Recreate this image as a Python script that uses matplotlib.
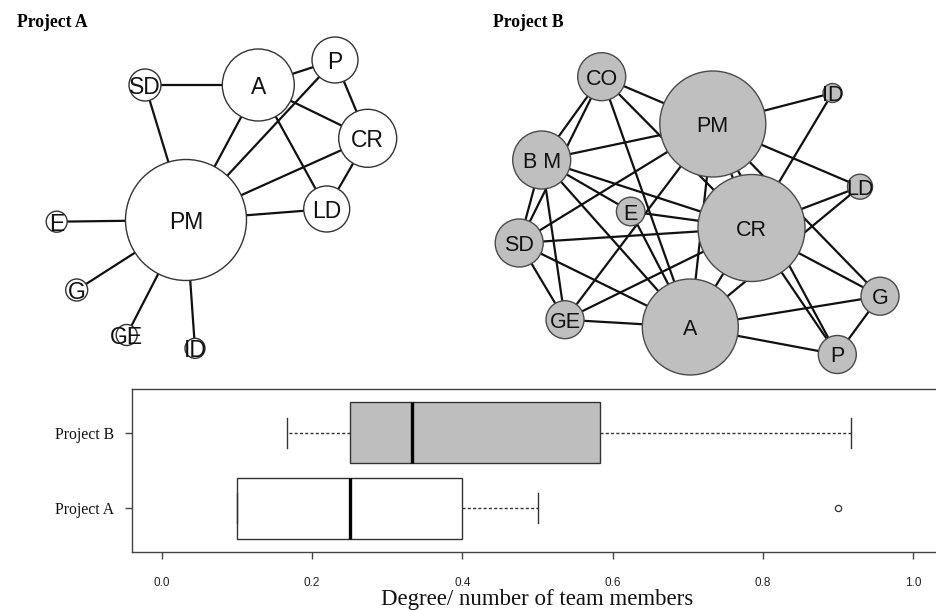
import matplotlib
matplotlib.use("Agg")
import matplotlib.pyplot as plt
from matplotlib.patches import Circle

# ---------------- data ----------------
nodes_a = ["SD", "A", "P", "CR", "LD", "PM", "E", "G", "GE", "ID"]
edges_a = [("SD", "A"), ("SD", "PM"), ("A", "P"), ("A", "CR"), ("A", "LD"),
           ("A", "PM"), ("P", "PM"), ("P", "CR"), ("CR", "PM"), ("CR", "LD"),
           ("LD", "PM"), ("PM", "E"), ("PM", "G"), ("PM", "GE"), ("PM", "ID")]

nodes_b = ["CO", "PM", "ID", "B M", "LD", "E", "CR", "SD", "G", "GE", "A", "P"]
edges_b = [("CO", "B M"), ("CO", "SD"), ("CO", "PM"), ("CO", "CR"), ("CO", "A"),
           ("B M", "PM"), ("B M", "E"), ("B M", "CR"), ("B M", "A"), ("B M", "SD"),
           ("B M", "GE"),
           ("SD", "PM"), ("SD", "CR"), ("SD", "A"), ("SD", "GE"),
           ("GE", "PM"), ("GE", "CR"), ("GE", "A"),
           ("E", "CR"), ("E", "A"),
           ("PM", "ID"), ("PM", "LD"), ("PM", "A"), ("PM", "CR"), ("PM", "G"),
           ("PM", "P"),
           ("ID", "CR"), ("LD", "CR"), ("LD", "A"),
           ("CR", "G"), ("CR", "P"), ("CR", "A"),
           ("G", "A"), ("G", "P"), ("P", "A")]

box_labels = ["Project A", "Project B"]
box_whislo = [0.1, 0.1667]
box_q1 = [0.1, 0.25]
box_med = [0.25, 0.3333]
box_q3 = [0.4, 0.5833]
box_whishi = [0.5, 0.9167]
box_fliers = [[0.9], []]

x_ticks = [0.0, 0.2, 0.4, 0.6, 0.8, 1.0]
x_ticklabels = ["0.0", "0.2", "0.4", "0.6", "0.8", "1.0"]

# ---------------- layout (pixel space: x, y, radius) ----------------
layout_a = {
    "SD": (145, 85, 16), "A": (258.3, 85, 36), "P": (335, 60, 23),
    "CR": (367.7, 138.3, 29), "LD": (326.7, 209, 23), "PM": (186, 220, 60.5),
    "E": (56.7, 221.7, 10.5), "G": (76.7, 290, 11), "GE": (126.7, 335, 10.5),
    "ID": (195, 348.3, 10),
}
layout_b = {
    "CO": (601.7, 76.7, 24), "PM": (712.8, 124, 53), "ID": (832.5, 93, 9.5),
    "B M": (541.7, 160, 29), "LD": (860, 186.7, 12.5), "E": (630.7, 211.5, 14.3),
    "CR": (751.5, 228, 53.5), "SD": (519.2, 243, 24), "G": (880, 296.2, 19),
    "GE": (565, 319.7, 19), "A": (690.3, 327, 48), "P": (837.3, 354.5, 19),
}

W, H = 937, 610
fig = plt.figure(figsize=(W / 100, H / 100), dpi=100)
fig.patch.set_facecolor("white")

ax = fig.add_axes([0, 0, 1, 1])
ax.set_xlim(0, W)
ax.set_ylim(H, 0)
ax.set_aspect("equal")
ax.axis("off")

label_font = "Liberation Sans"


def draw_network(nodes, edges, layout, fill, edgecol, fsize):
    for a, b in edges:
        xa, ya, _ = layout[a]
        xb, yb, _ = layout[b]
        ax.plot([xa, xb], [ya, yb], color="#111111", lw=1.6, zorder=1,
                solid_capstyle="butt")
    for n in nodes:
        x, y, r = layout[n]
        ax.add_patch(Circle((x, y), r, facecolor=fill, edgecolor=edgecol,
                            lw=1.0, zorder=2))
        ax.text(x, y, n, ha="center", va="center_baseline", fontsize=fsize,
                family=label_font, color="#111111", zorder=3)


draw_network(nodes_a, edges_a, layout_a, "white", "#333333", 16.5)
draw_network(nodes_b, edges_b, layout_b, "#BFBFBF", "#4a4a4a", 15.5)

fig.text(16.7 / W, 1 - 27.3 / H, "Project A", fontsize=12.7, fontweight="bold",
         family="Liberation Serif", ha="left", va="baseline")
fig.text(493.3 / W, 1 - 27.3 / H, "Project B", fontsize=12.7, fontweight="bold",
         family="Liberation Serif", ha="left", va="baseline")

# ---------------- box plot ----------------
left, right, top, bottom = 131.7, 943.4, 388.8, 552.2
bax = fig.add_axes([left / W, 1 - bottom / H, (right - left) / W, (bottom - top) / H])
bax.set_facecolor("none")

stats = []
for i in range(len(box_labels)):
    stats.append(dict(label=box_labels[i], whislo=box_whislo[i], q1=box_q1[i],
                      med=box_med[i], q3=box_q3[i], whishi=box_whishi[i],
                      fliers=box_fliers[i]))

res = bax.bxp(stats, positions=[1, 2], orientation="horizontal", widths=0.8,
              patch_artist=True, capwidths=0.4,
              boxprops=dict(edgecolor="#333333", lw=1.0),
              whiskerprops=dict(color="#333333", lw=1.0, linestyle=(0, (2.2, 1.6))),
              capprops=dict(color="#333333", lw=1.0),
              medianprops=dict(color="black", lw=2.4, solid_capstyle="butt"),
              flierprops=dict(marker="o", markerfacecolor="none",
                              markeredgecolor="#333333", markersize=4.5,
                              markeredgewidth=0.9))
for patch, fc in zip(res["boxes"], ["white", "#BEBEBE"]):
    patch.set_facecolor(fc)

bax.set_xlim(-0.04, 1.04)
bax.set_ylim(0.42, 2.58)
for s in ["top", "bottom", "left", "right"]:
    bax.spines[s].set_color("#444444")
    bax.spines[s].set_linewidth(1.0)

bax.set_xticks(x_ticks)
bax.set_xticklabels(x_ticklabels, family="Liberation Sans", fontsize=8.5,
                    color="#222222")
bax.set_yticks([1, 2])
bax.set_yticklabels(box_labels, family="Liberation Serif", fontsize=11.3,
                    color="#111111")
bax.tick_params(axis="x", length=5, width=1, color="#444444", pad=13)
bax.tick_params(axis="y", length=5, width=1, color="#444444", pad=8)

fig.text((left + right) / 2 / W, 1 - 605.5 / H, "Degree/ number of team members",
         fontsize=16.5, family="Liberation Serif", ha="center", va="baseline",
         color="#111111")

fig.savefig("out.png", dpi=100, facecolor="white")
